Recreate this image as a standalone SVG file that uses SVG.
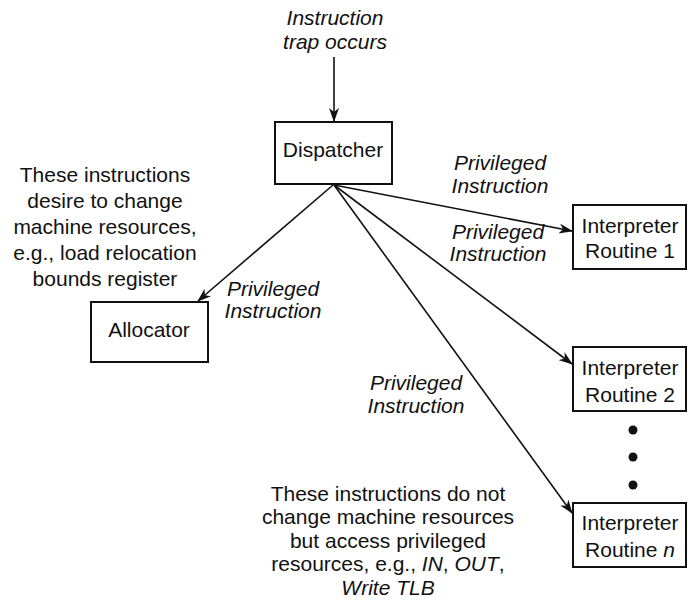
<svg xmlns="http://www.w3.org/2000/svg" width="688" height="608" viewBox="0 0 688 608">
<style>
text{font-family:"Liberation Sans",Arial,sans-serif;font-size:21px;fill:#111;text-anchor:middle}
.i{font-style:italic}
.box{fill:#fff;stroke:#111;stroke-width:2}
.edge{stroke:#111;stroke-width:1.6;fill:none;marker-end:url(#ah)}
</style>
<defs>
<marker id="ah" viewBox="0 0 14 10" refX="13" refY="5" markerWidth="14" markerHeight="10" markerUnits="userSpaceOnUse" orient="auto">
<path d="M0,0 L14,5 L0,10 L4,5 Z" fill="#111"/>
</marker>
</defs>
<rect width="688" height="608" fill="#fff"/>
<g id="connectors">
<line class="edge" x1="334" y1="57" x2="334" y2="121"/>
<line class="edge" x1="333" y1="185" x2="198" y2="301"/>
<line class="edge" x1="334" y1="185" x2="572" y2="231"/>
<line class="edge" x1="334" y1="185" x2="572" y2="364"/>
<line class="edge" x1="334" y1="185" x2="572" y2="513"/>
</g>
<g id="trap-label">
<text class="i" x="335" y="25">Instruction</text>
<text class="i" x="335" y="49">trap occurs</text>
</g>
<g id="dispatcher">
<rect class="box" x="275" y="122" width="117" height="62"/>
<text x="333" y="157">Dispatcher</text>
</g>
<g id="allocator">
<rect class="box" x="91" y="302" width="117" height="60"/>
<text x="149" y="337">Allocator</text>
</g>
<g id="routine1">
<rect class="box" x="573" y="205" width="113" height="64"/>
<text x="630" y="233">Interpreter</text>
<text x="630" y="258">Routine 1</text>
</g>
<g id="routine2">
<rect class="box" x="573" y="347" width="113" height="64"/>
<text x="630" y="375">Interpreter</text>
<text x="630" y="402">Routine 2</text>
</g>
<g id="dots">
<circle cx="633" cy="430" r="4.5" fill="#111"/>
<circle cx="633" cy="457" r="4.5" fill="#111"/>
<circle cx="633" cy="485" r="4.5" fill="#111"/>
</g>
<g id="routineN">
<rect class="box" x="573" y="503" width="113" height="64"/>
<text x="630" y="530">Interpreter</text>
<text x="630" y="557">Routine <tspan class="i">n</tspan></text>
</g>
<g id="edge-labels">
<text class="i" x="500" y="170">Privileged</text>
<text class="i" x="500" y="193">Instruction</text>
<text class="i" x="498" y="239">Privileged</text>
<text class="i" x="498" y="261">Instruction</text>
<text class="i" x="273" y="296">Privileged</text>
<text class="i" x="273" y="318">Instruction</text>
<text class="i" x="416" y="390">Privileged</text>
<text class="i" x="416" y="413">Instruction</text>
</g>
<g id="note-left">
<text x="105" y="182">These instructions</text>
<text x="105" y="208">desire to change</text>
<text x="105" y="234">machine resources,</text>
<text x="105" y="260">e.g., load relocation</text>
<text x="105" y="286">bounds register</text>
</g>
<g id="note-bottom">
<text x="388" y="501">These instructions do not</text>
<text x="388" y="524">change machine resources</text>
<text x="388" y="548">but access privileged</text>
<text x="388" y="571">resources, e.g., <tspan class="i">IN</tspan>, <tspan class="i">OUT</tspan>,</text>
<text class="i" x="388" y="595">Write TLB</text>
</g>
</svg>
